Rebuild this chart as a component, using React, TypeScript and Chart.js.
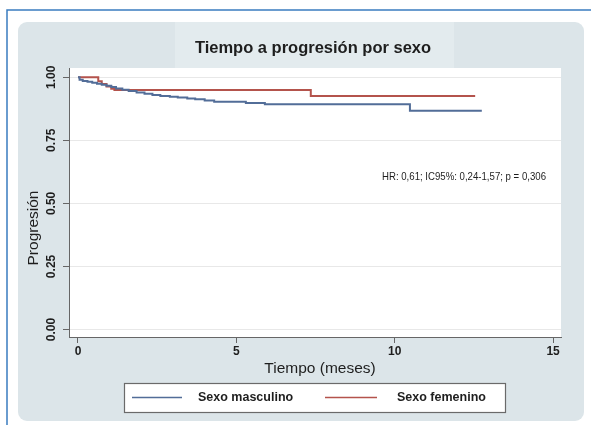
import { useEffect, useRef } from 'react';
import { Chart, registerables } from 'chart.js';

Chart.register(...registerables);

const chartTitle = 'Tiempo a progresión por sexo';
const xTitle = 'Tiempo (meses)';
const yTitle = 'Progresión';
const annotationText = 'HR: 0,61; IC95%: 0,24-1,57; p = 0,306';
const seriesLabels = ['Sexo masculino', 'Sexo femenino'];
const xTicks = [0, 5, 10, 15];
const yTicks = [0, 0.25, 0.5, 0.75, 1];

const maleTimes = [0, 0.05, 0.15, 0.3, 0.45, 0.6, 0.75, 0.9, 1.05, 1.2, 1.4, 1.6, 1.85, 2.1, 2.35, 2.6, 2.9, 3.15, 3.45, 3.7, 4.0, 4.3, 5.3, 5.9, 10.48, 12.75];
const maleSurv = [1, 0.99, 0.985, 0.982, 0.978, 0.974, 0.97, 0.966, 0.961, 0.956, 0.951, 0.946, 0.94, 0.935, 0.93, 0.926, 0.923, 0.92, 0.916, 0.913, 0.908, 0.903, 0.898, 0.893, 0.867, 0.867];

const femaleTimes = [0, 0.64, 0.75, 0.9, 1.05, 1.15, 7.35, 12.54];
const femaleSurv = [1, 0.984, 0.973, 0.963, 0.955, 0.95, 0.926, 0.926];

const FONT = '"Liberation Sans", Arial, Helvetica, sans-serif';
const TEXT = '#1e1e1e';
const BLUE = '#526d98';
const RED = '#b4534c';

const decor = {
  id: 'decor',
  beforeDraw(chart: any) {
    const { ctx, chartArea: a, width, height } = chart;
    ctx.save();
    ctx.fillStyle = '#ffffff';
    ctx.fillRect(0, 0, width, height);
    // outer frame
    ctx.strokeStyle = '#3a7cc0';
    ctx.lineWidth = 1.5;
    ctx.beginPath();
    ctx.moveTo(7, height);
    ctx.lineTo(7, 10);
    ctx.lineTo(width, 10);
    ctx.stroke();
    // panel
    ctx.fillStyle = '#dce5e9';
    ctx.beginPath();
    ctx.roundRect(18, 22, 566, 399, 9);
    ctx.fill();
    // title box
    const cx = (a.left + a.right) / 2;
    ctx.fillStyle = '#e3ebee';
    ctx.fillRect(cx - 140, 22, 279, a.top - 22);
    // plot region
    ctx.fillStyle = '#ffffff';
    ctx.fillRect(a.left, a.top, a.right - a.left, a.bottom - a.top);
    ctx.restore();
  },
  afterDraw(chart: any) {
    const { ctx, chartArea: a, scales } = chart;
    const xs = scales.x;
    const ys = scales.y;
    const cx = (a.left + a.right) / 2;
    ctx.save();
    ctx.fillStyle = TEXT;
    // title
    ctx.font = `bold 16.5px ${FONT}`;
    ctx.textAlign = 'center';
    ctx.textBaseline = 'middle';
    ctx.fillText(chartTitle, cx - 2, 48);
    // x tick labels
    ctx.font = `bold 12px ${FONT}`;
    xs.ticks.forEach((t: any) => {
      ctx.fillText(String(t.value), xs.getPixelForValue(t.value), 352);
    });
    // y tick labels (rotated)
    ys.ticks.forEach((t: any) => {
      ctx.save();
      ctx.translate(52, ys.getPixelForValue(t.value));
      ctx.rotate(-Math.PI / 2);
      ctx.fillText(Number(t.value).toFixed(2), 0, 0);
      ctx.restore();
    });
    // axis titles
    ctx.font = `15.5px ${FONT}`;
    ctx.fillText(xTitle, cx + 5, 369);
    ctx.save();
    ctx.translate(34, 228);
    ctx.rotate(-Math.PI / 2);
    ctx.fillText(yTitle, 0, 0);
    ctx.restore();
    // annotation
    ctx.font = `10.8px ${FONT}`;
    ctx.textAlign = 'left';
    ctx.fillText(annotationText, 382, 177, 164);
    // legend
    ctx.fillStyle = '#ffffff';
    ctx.fillRect(124, 383, 381, 29);
    ctx.strokeStyle = '#6a6a6a';
    ctx.lineWidth = 1.2;
    ctx.strokeRect(124.5, 383.5, 381, 29);
    const items = [
      { x0: 132, x1: 182, tx: 198 },
      { x0: 325, x1: 377, tx: 397 },
    ];
    chart.data.datasets.forEach((ds: any, i: number) => {
      const it = items[i];
      ctx.strokeStyle = ds.borderColor;
      ctx.lineWidth = 1.6;
      ctx.beginPath();
      ctx.moveTo(it.x0, 397.5);
      ctx.lineTo(it.x1, 397.5);
      ctx.stroke();
      ctx.fillStyle = TEXT;
      ctx.font = `bold 12.5px ${FONT}`;
      ctx.textAlign = 'left';
      ctx.textBaseline = 'middle';
      ctx.fillText(ds.label, it.tx, 398);
    });
    ctx.restore();
  },
};

export default function App() {
  const ref = useRef<HTMLCanvasElement>(null);
  useEffect(() => {
    if (!ref.current) return;
    const chart = new Chart(ref.current, {
      type: 'line',
      data: {
        datasets: [
          {
            label: seriesLabels[0],
            data: maleTimes.map((t, i) => ({ x: t, y: maleSurv[i] })),
            borderColor: BLUE,
            borderWidth: 2,
            pointRadius: 0,
            stepped: 'before',
            fill: false,
          },
          {
            label: seriesLabels[1],
            data: femaleTimes.map((t, i) => ({ x: t, y: femaleSurv[i] })),
            borderColor: RED,
            borderWidth: 2,
            pointRadius: 0,
            stepped: 'before',
            fill: false,
          },
        ],
      },
      options: {
        animation: false,
        responsive: false,
        devicePixelRatio: 1,
        layout: { padding: { left: 63, top: 68, right: 30, bottom: 82 } },
        plugins: {
          legend: { display: false },
          title: { display: false },
          tooltip: { enabled: false },
        },
        scales: {
          x: {
            type: 'linear',
            min: -0.284,
            max: 15.25,
            afterBuildTicks: (s: any) => {
              s.ticks = xTicks.map((v) => ({ value: v }));
            },
            ticks: { display: false },
            grid: {
              display: true,
              drawOnChartArea: false,
              drawTicks: true,
              tickLength: 6,
              tickColor: '#666666',
              tickWidth: 1,
            },
            border: { display: true, color: '#666666', width: 1 },
          },
          y: {
            type: 'linear',
            min: -0.0297,
            max: 1.0368,
            afterBuildTicks: (s: any) => {
              s.ticks = yTicks.map((v) => ({ value: v }));
            },
            ticks: { display: false },
            grid: {
              display: true,
              color: '#e8e8e8',
              lineWidth: 1,
              drawTicks: true,
              tickLength: 6,
              tickColor: '#666666',
              tickWidth: 1,
            },
            border: { display: true, color: '#666666', width: 1 },
          },
        },
      },
      plugins: [decor],
    });
    return () => chart.destroy();
  }, []);
  return (
    <div style={{ position: 'absolute', left: 0, top: 0, width: 591, height: 425 }}>
      <canvas ref={ref} width={591} height={425} style={{ display: 'block' }} />
    </div>
  );
}
